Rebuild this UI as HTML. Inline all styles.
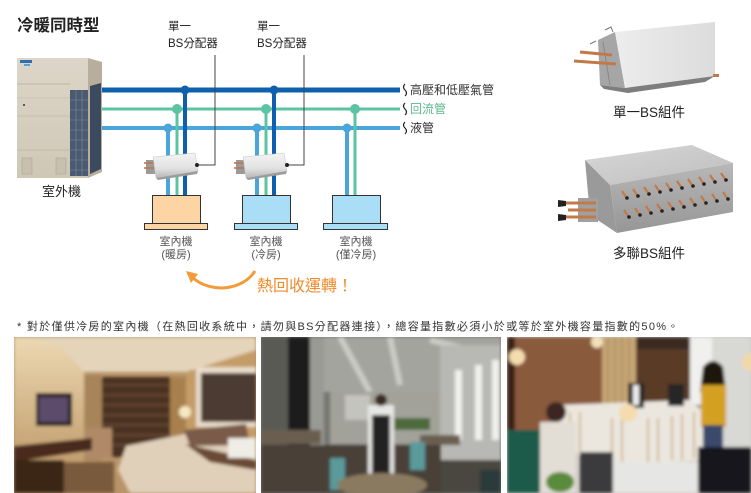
<!DOCTYPE html>
<html><head><meta charset="utf-8">
<style>
html,body{margin:0;padding:0;background:#fff;}
body{width:751px;height:493px;overflow:hidden;position:relative;}
svg{position:absolute;left:0;top:0;}
text{font-family:"Liberation Sans","Noto Sans CJK TC",sans-serif;}
</style></head>
<body>
<svg width="751" height="493" viewBox="0 0 751 493" xmlns="http://www.w3.org/2000/svg">
<defs>
  <linearGradient id="ouFront" x1="0" y1="0" x2="0" y2="1">
    <stop offset="0" stop-color="#ddd6c8"/><stop offset="1" stop-color="#cfc7b6"/>
  </linearGradient>
  <linearGradient id="bsg" x1="0" y1="0" x2="0" y2="1">
    <stop offset="0" stop-color="#f4f4f4"/><stop offset="0.6" stop-color="#e2e2e2"/><stop offset="1" stop-color="#b8b8b8"/>
  </linearGradient>
  <linearGradient id="sbsFront" x1="0" y1="0" x2="1" y2="0">
    <stop offset="0" stop-color="#ededed"/><stop offset="1" stop-color="#dcdcdc"/>
  </linearGradient>
  <linearGradient id="mbsTop" x1="0" y1="0" x2="1" y2="1">
    <stop offset="0" stop-color="#d8d8d8"/><stop offset="1" stop-color="#bdbdbd"/>
  </linearGradient>
  <linearGradient id="mbsFront" x1="0" y1="0" x2="0" y2="1">
    <stop offset="0" stop-color="#b8b8b8"/><stop offset="1" stop-color="#969696"/>
  </linearGradient>
  <linearGradient id="p1wall" x1="0" y1="0" x2="0" y2="1">
    <stop offset="0" stop-color="#ecd8b2"/><stop offset="1" stop-color="#b8905e"/>
  </linearGradient>
  <filter id="bl" x="-5%" y="-5%" width="110%" height="110%"><feGaussianBlur stdDeviation="1.6"/></filter>
  <clipPath id="c1"><rect x="14" y="337" width="242" height="156"/></clipPath>
  <clipPath id="c2"><rect x="261" y="337" width="240" height="156"/></clipPath>
  <clipPath id="c3"><rect x="507" y="337" width="244" height="156"/></clipPath>
</defs>

<!-- Title -->
<text x="17" y="31" font-size="16.5" font-weight="bold" fill="#222">冷暖同時型</text>

<!-- Outdoor unit -->
<g>
  <rect x="17" y="58" width="71" height="120" fill="url(#ouFront)"/>
  <polygon points="88,58 102,62 102,172 88,178" fill="#b7ae9e"/>
  <polygon points="90,86 101,83 101,169 90,174" fill="#3c4a60"/>
  <rect x="70" y="90" width="18" height="86" fill="#4b5a70"/>
  <g stroke="#7a8aa0" stroke-width="0.6">
    <line x1="70" y1="100" x2="88" y2="100"/><line x1="70" y1="110" x2="88" y2="110"/>
    <line x1="70" y1="120" x2="88" y2="120"/><line x1="70" y1="130" x2="88" y2="130"/>
    <line x1="70" y1="140" x2="88" y2="140"/><line x1="70" y1="150" x2="88" y2="150"/>
    <line x1="70" y1="160" x2="88" y2="160"/><line x1="70" y1="170" x2="88" y2="170"/>
    <line x1="76" y1="90" x2="76" y2="176"/><line x1="82" y1="90" x2="82" y2="176"/>
  </g>
  <line x1="17" y1="84" x2="70" y2="84" stroke="#b5ad9c" stroke-width="0.8"/>
  <line x1="17" y1="98" x2="70" y2="98" stroke="#bdb5a4" stroke-width="0.6"/>
  <line x1="17" y1="116" x2="70" y2="116" stroke="#b5ad9c" stroke-width="0.6"/>
  <line x1="17" y1="150" x2="70" y2="150" stroke="#b5ad9c" stroke-width="0.6"/>
  <rect x="20" y="60" width="12" height="3" fill="#2d6fb0"/>
  <rect x="24" y="64" width="6" height="2" fill="#58a0d0"/>
  <rect x="22" y="158" width="10" height="16" fill="#c8c0ae" stroke="#a8a090" stroke-width="0.5"/>
  <rect x="56" y="158" width="10" height="16" fill="#c8c0ae" stroke="#a8a090" stroke-width="0.5"/>
  <circle cx="24" cy="105" r="1" fill="#333"/>
</g>
<text x="42" y="196" font-size="13" fill="#222">室外機</text>

<!-- Horizontal pipes -->
<line x1="102" y1="90" x2="400" y2="90" stroke="#0e5fae" stroke-width="5"/>
<line x1="102" y1="109" x2="400" y2="109" stroke="#5cc4a2" stroke-width="3"/>
<line x1="102" y1="128" x2="400" y2="128" stroke="#4aa6da" stroke-width="4"/>

<!-- verticals -->
<line x1="168" y1="128" x2="168" y2="196" stroke="#4aa6da" stroke-width="4"/>
<line x1="177" y1="109" x2="177" y2="196" stroke="#5cc4a2" stroke-width="3"/>
<line x1="185" y1="90" x2="185" y2="196" stroke="#0e5fae" stroke-width="4"/>
<line x1="257" y1="128" x2="257" y2="196" stroke="#4aa6da" stroke-width="4"/>
<line x1="266" y1="109" x2="266" y2="196" stroke="#5cc4a2" stroke-width="3"/>
<line x1="274" y1="90" x2="274" y2="196" stroke="#0e5fae" stroke-width="4"/>
<line x1="347" y1="128" x2="347" y2="196" stroke="#4aa6da" stroke-width="4"/>
<line x1="355" y1="109" x2="355" y2="196" stroke="#5cc4a2" stroke-width="3"/>

<!-- junction dots -->
<circle cx="185" cy="90" r="4.5" fill="#0e5fae"/>
<circle cx="177" cy="109" r="5" fill="#5cc4a2"/>
<circle cx="168" cy="128" r="4.5" fill="#4aa6da"/>
<circle cx="274" cy="90" r="4.5" fill="#0e5fae"/>
<circle cx="266" cy="109" r="5" fill="#5cc4a2"/>
<circle cx="257" cy="128" r="4.5" fill="#4aa6da"/>
<circle cx="355" cy="109" r="5" fill="#5cc4a2"/>
<circle cx="347" cy="128" r="4.5" fill="#4aa6da"/>

<!-- squiggles & pipe labels -->
<g fill="none" stroke="#222" stroke-width="1.2">
  <path d="M405,84 q-3,3 0,6 q3,3 0,6"/>
  <path d="M405,103 q-3,3 0,6 q3,3 0,6"/>
  <path d="M405,122 q-3,3 0,6 q3,3 0,6"/>
</g>
<text x="410" y="94" font-size="12" fill="#333">高壓和低壓氣管</text>
<text x="410" y="113" font-size="12" fill="#5cb88e">回流管</text>
<text x="410" y="132" font-size="12" fill="#333">液管</text>

<!-- BS devices -->
<g>
  <rect x="146" y="160" width="9" height="14" fill="#9a9a9a"/>
  <line x1="144" y1="163" x2="154" y2="163" stroke="#b87a50" stroke-width="1.6"/>
  <line x1="144" y1="168" x2="154" y2="168" stroke="#b87a50" stroke-width="1.6"/>
  <polygon points="153,157 195,153 198,171 156,178" fill="url(#bsg)" stroke="#c4c4c4" stroke-width="0.5"/>
  <polygon points="156,178 198,171 197,174 158,180" fill="#9c9c9c"/>
</g>
<g>
  <rect x="236" y="160" width="9" height="14" fill="#9a9a9a"/>
  <line x1="234" y1="163" x2="244" y2="163" stroke="#b87a50" stroke-width="1.6"/>
  <line x1="234" y1="168" x2="244" y2="168" stroke="#b87a50" stroke-width="1.6"/>
  <polygon points="243,157 284,153 287,171 246,178" fill="url(#bsg)" stroke="#c4c4c4" stroke-width="0.5"/>
  <polygon points="246,178 287,171 286,174 248,180" fill="#9c9c9c"/>
</g>

<!-- leaders -->
<polyline points="197,165 215,165 215,55" fill="none" stroke="#444" stroke-width="1"/>
<circle cx="197" cy="165" r="2" fill="#222"/>
<polyline points="287,165 304,165 304,55" fill="none" stroke="#444" stroke-width="1"/>
<circle cx="287" cy="165" r="2" fill="#222"/>

<text x="168" y="30" font-size="11.5" fill="#222">單一</text>
<text x="168" y="47" font-size="11.5" fill="#222">BS分配器</text>
<text x="257" y="30" font-size="11.5" fill="#222">單一</text>
<text x="257" y="47" font-size="11.5" fill="#222">BS分配器</text>

<!-- Indoor units -->
<rect x="152.5" y="195.5" width="48" height="28" fill="#fdd4a3" stroke="#333" stroke-width="1"/>
<rect x="144.5" y="223.5" width="63" height="6" fill="#fdd4a3" stroke="#333" stroke-width="1"/>
<rect x="242.5" y="195.5" width="48" height="28" fill="#aadef7" stroke="#333" stroke-width="1"/>
<rect x="234.5" y="223.5" width="63" height="6" fill="#aadef7" stroke="#333" stroke-width="1"/>
<rect x="332.5" y="195.5" width="48" height="28" fill="#aadef7" stroke="#333" stroke-width="1"/>
<rect x="323.5" y="223.5" width="64" height="6" fill="#aadef7" stroke="#333" stroke-width="1"/>

<g font-size="11" fill="#555" text-anchor="middle">
  <text x="176" y="245">室內機</text>
  <text x="176" y="258">(暖房)</text>
  <text x="266" y="245">室內機</text>
  <text x="266" y="258">(冷房)</text>
  <text x="356" y="245">室內機</text>
  <text x="356" y="258">(僅冷房)</text>
</g>

<!-- heat recovery arrow -->
<path d="M255,271 C243,290 212,294 193,278" fill="none" stroke="#f39a3a" stroke-width="3"/>
<polygon points="186,271 198,274 191,283" fill="#f39a3a"/>
<text x="257" y="291" font-size="16" fill="#f08b2a">熱回收運轉！</text>

<!-- Single BS product -->
<g>
  <polygon points="598,40 615,32 625,88 600,85" fill="#a6a6a6"/>
  <polygon points="615,32 715,22 715,76 625,88" fill="url(#sbsFront)"/>
  <polygon points="600,85 625,88 715,76 705,82 628,93 604,89" fill="#7e7e7e"/>
  <line x1="603" y1="42" x2="610" y2="85" stroke="#888" stroke-width="1"/>
  <line x1="580" y1="52" x2="612" y2="55" stroke="#c07a4a" stroke-width="3"/>
  <line x1="574" y1="61" x2="616" y2="64" stroke="#c07a4a" stroke-width="3"/>
  <rect x="713" y="74" width="6" height="3" fill="#c07a4a"/>
  <path d="M605,30 l6,-3 l2,5" fill="none" stroke="#777" stroke-width="1"/>
  <path d="M590,44 l6,-3" fill="none" stroke="#777" stroke-width="1"/>
</g>
<text x="613" y="117" font-size="13.5" fill="#222">單一BS組件</text>

<!-- Multi BS product -->
<g>
  <polygon points="585,160 692,145 733,163 610,185" fill="url(#mbsTop)"/>
  <polygon points="585,160 610,185 617,233 590,215" fill="#9a9a9a"/>
  <polygon points="610,185 733,163 733,212 617,233" fill="url(#mbsFront)"/>
  <rect x="578" y="198" width="20" height="24" fill="#a0a0a0"/>
  <g stroke="#c27a4a" stroke-width="3">
    <line x1="563" y1="203" x2="596" y2="203"/>
    <line x1="568" y1="210" x2="596" y2="210"/>
    <line x1="563" y1="217" x2="596" y2="217"/>
  </g>
  <polygon points="558,200 566,201 566,206 558,207" fill="#222"/>
  <polygon points="558,214 566,215 566,220 558,221" fill="#222"/>
  <g stroke="#c27a4a" stroke-width="2.2">
    <path d="M622,191 l4,6 M633,189 l4,6 M644,187 l4,6 M655,185 l4,6 M666,183 l4,6 M677,181 l4,6 M688,179 l4,6 M699,177 l4,6 M710,175 l4,6 M721,173 l4,6"/>
    <path d="M624,210 l4,6 M635,208 l4,6 M646,206 l4,6 M657,204 l4,6 M668,202 l4,6 M679,200 l4,6 M690,198 l4,6 M701,196 l4,6 M712,194 l4,6 M723,192 l4,6"/>
  </g>
  <g fill="#222">
    <circle cx="627" cy="198" r="1.8"/><circle cx="638" cy="196" r="1.8"/><circle cx="649" cy="194" r="1.8"/><circle cx="660" cy="192" r="1.8"/><circle cx="671" cy="190" r="1.8"/><circle cx="682" cy="188" r="1.8"/><circle cx="693" cy="186" r="1.8"/><circle cx="704" cy="184" r="1.8"/><circle cx="715" cy="182" r="1.8"/><circle cx="726" cy="180" r="1.8"/>
    <circle cx="629" cy="217" r="1.8"/><circle cx="640" cy="215" r="1.8"/><circle cx="651" cy="213" r="1.8"/><circle cx="662" cy="211" r="1.8"/><circle cx="673" cy="209" r="1.8"/><circle cx="684" cy="207" r="1.8"/><circle cx="695" cy="205" r="1.8"/><circle cx="706" cy="203" r="1.8"/><circle cx="717" cy="201" r="1.8"/><circle cx="728" cy="199" r="1.8"/>
  </g>
</g>
<text x="613" y="258" font-size="13.5" fill="#222">多聯BS組件</text>

<!-- Footnote -->
<text x="17" y="330" font-size="11" letter-spacing="1.3" fill="#333">* 對於僅供冷房的室內機（在熱回收系統中，請勿與BS分配器連接），總容量指數必須小於或等於室外機容量指數的50%。</text>

<!-- Photo 1: bedroom -->
<g clip-path="url(#c1)">
  <rect x="14" y="337" width="242" height="156" fill="#b89468"/>
  <g filter="url(#bl)">
    <rect x="14" y="337" width="70" height="156" fill="url(#p1wall)"/>
    <polygon points="14,337 256,337 256,352 185,372 84,372 60,345" fill="#e4d4ba"/>
    <rect x="84" y="375" width="18" height="85" fill="#a8845a"/>
    <rect x="102" y="377" width="68" height="80" fill="#4a3122"/>
    <g stroke="#6a4a34" stroke-width="2">
      <line x1="102" y1="385" x2="170" y2="385"/><line x1="102" y1="395" x2="170" y2="395"/>
      <line x1="102" y1="405" x2="170" y2="405"/><line x1="102" y1="415" x2="170" y2="415"/>
      <line x1="102" y1="425" x2="170" y2="425"/><line x1="102" y1="435" x2="170" y2="435"/>
      <line x1="102" y1="445" x2="170" y2="445"/>
    </g>
    <rect x="170" y="377" width="16" height="60" fill="#a8804e"/>
    <polygon points="186,372 256,350 256,440 186,440" fill="#c49c68"/>
    <rect x="196" y="367" width="60" height="60" fill="#e8dccb"/>
    <rect x="201" y="373" width="55" height="49" fill="#4b3b30"/>
    <circle cx="185" cy="412" r="6" fill="#f6e8c4"/>
    <rect x="36" y="393" width="36" height="33" fill="#241a1e"/>
    <rect x="39" y="397" width="29" height="25" fill="#5c4c6a"/>
    <rect x="84" y="428" width="28" height="30" fill="#b08a68"/>
    <polygon points="14,446 92,438 92,450 14,462" fill="#4a2c1a"/>
    <rect x="14" y="460" width="50" height="33" fill="#3a2618"/>
    <rect x="64" y="462" width="50" height="31" fill="#7a5a3c"/>
    <polygon points="126,446 195,432 256,452 256,493 130,493 118,470" fill="#e0d0ba"/>
    <polygon points="185,444 256,460 256,470 210,462" fill="#6a4a34"/>
    <polygon points="184,430 246,424 250,445 190,446" fill="#7a5a48"/>
    <rect x="228" y="438" width="28" height="20" fill="#f0ece6"/>
  </g>
</g>

<!-- Photo 2: restaurant -->
<g clip-path="url(#c2)">
  <rect x="261" y="337" width="240" height="156" fill="#767672"/>
  <g filter="url(#bl)">
    <rect x="320" y="337" width="181" height="55" fill="#a4a49e"/>
    <g stroke="#cacac6" stroke-width="6">
      <line x1="340" y1="337" x2="370" y2="392"/>
      <line x1="390" y1="337" x2="400" y2="385"/>
      <line x1="430" y1="340" x2="470" y2="350"/>
    </g>
    <rect x="261" y="337" width="28" height="110" fill="#5a5a55"/>
    <rect x="288" y="337" width="22" height="110" fill="#1c1c1c"/>
    <rect x="310" y="337" width="14" height="110" fill="#9a9a94"/>
    <rect x="330" y="392" width="110" height="52" fill="#a2a29a"/>
    <rect x="345" y="395" width="25" height="25" fill="#c4c4be"/>
    <rect x="370" y="418" width="60" height="12" fill="#4e6a3a"/>
    <rect x="440" y="345" width="61" height="125" fill="#b8b8b4"/>
    <rect x="455" y="370" width="7" height="70" fill="#f0f0ee"/>
    <rect x="475" y="365" width="7" height="75" fill="#f0f0ee"/>
    <rect x="492" y="360" width="7" height="80" fill="#f0f0ee"/>
    <rect x="261" y="445" width="180" height="48" fill="#4a4038"/>
    <rect x="441" y="460" width="60" height="33" fill="#4a4640"/>
    <rect x="261" y="430" width="60" height="14" fill="#6a5e50"/>
    <rect x="420" y="435" width="40" height="10" fill="#6a5e50"/>
    <rect x="330" y="458" width="15" height="32" fill="#5a9a9a"/>
    <rect x="410" y="442" width="15" height="28" fill="#5a9a9a"/>
    <rect x="368" y="405" width="26" height="88" fill="#e6e6e4"/>
    <rect x="372" y="415" width="18" height="60" fill="#222"/>
    <circle cx="381" cy="400" r="6" fill="#3a2a20"/>
    <ellipse cx="382" cy="485" rx="45" ry="12" fill="#8a7a60"/>
    <rect x="480" y="470" width="21" height="23" fill="#2a3a3a"/>
  </g>
</g>

<!-- Photo 3: lobby -->
<g clip-path="url(#c3)">
  <rect x="507" y="337" width="244" height="156" fill="#cfcbc3"/>
  <g filter="url(#bl)">
    <rect x="507" y="337" width="95" height="105" fill="#8a5a3c"/>
    <rect x="507" y="337" width="8" height="156" fill="#3a2418"/>
    <rect x="602" y="337" width="34" height="75" fill="#c6a676"/>
    <g stroke="#a8885a" stroke-width="1.5">
      <line x1="608" y1="337" x2="608" y2="412"/><line x1="615" y1="337" x2="615" y2="412"/>
      <line x1="622" y1="337" x2="622" y2="412"/><line x1="629" y1="337" x2="629" y2="412"/>
    </g>
    <rect x="636" y="337" width="115" height="12" fill="#3a2a20"/>
    <rect x="636" y="349" width="64" height="60" fill="#5a3a28"/>
    <rect x="690" y="337" width="22" height="68" fill="#f0f0ee"/>
    <rect x="712" y="337" width="39" height="130" fill="#d8d8d4"/>
    <polygon points="558,405 690,400 706,414 706,460 600,466 558,442" fill="#ebe7df"/>
    <g stroke="#c8a878" stroke-width="1.6">
      <line x1="570" y1="412" x2="570" y2="445"/><line x1="580" y1="412" x2="580" y2="452"/>
      <line x1="612" y1="418" x2="612" y2="462"/><line x1="622" y1="418" x2="622" y2="462"/>
      <line x1="648" y1="418" x2="648" y2="462"/><line x1="658" y1="418" x2="658" y2="462"/>
      <line x1="672" y1="416" x2="672" y2="460"/><line x1="682" y1="414" x2="682" y2="460"/>
      <line x1="694" y1="412" x2="694" y2="458"/>
    </g>
    <rect x="628" y="383" width="16" height="25" fill="#222"/>
    <rect x="633" y="385" width="6" height="20" fill="#eee"/>
    <rect x="668" y="384" width="16" height="22" fill="#262626"/>
    <circle cx="517" cy="357" r="8" fill="#f4dcae"/>
    <circle cx="597" cy="342" r="6" fill="#f2e0b8"/>
    <circle cx="628" cy="413" r="9" fill="#f4dcae"/>
    <circle cx="751" cy="362" r="9" fill="#f0d8a8"/>
    <path d="M703,367 q10,-12 20,0 l3,25 l-26,0 z" fill="#1a1410"/>
    <rect x="701" y="385" width="25" height="42" fill="#d4a024"/>
    <rect x="703" y="425" width="20" height="45" fill="#3a4a6a"/>
    <rect x="698" y="447" width="53" height="46" fill="#18181c"/>
    <rect x="507" y="430" width="45" height="63" fill="#1f5a48"/>
    <rect x="540" y="422" width="36" height="71" fill="#e2ded6"/>
    <circle cx="556" cy="412" r="10" fill="#3a2820"/>
    <rect x="580" y="452" width="33" height="41" fill="#3a3a3e"/>
    <rect x="613" y="462" width="85" height="31" fill="#e6e6e4"/>
    <ellipse cx="560" cy="482" rx="14" ry="10" fill="#5a8a3a"/>
  </g>
</g>
</svg>
</body></html>
